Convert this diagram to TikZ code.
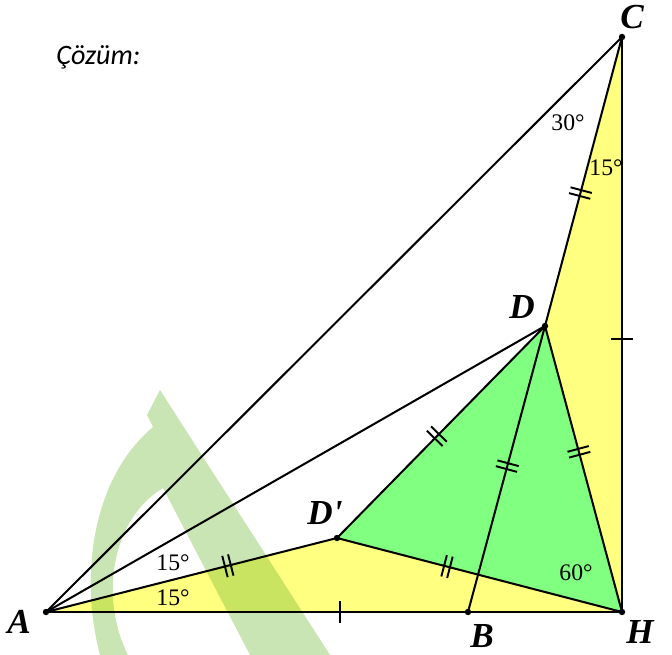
\documentclass[tikz,border=0pt]{standalone}
\usepackage{fontspec}
\setmainfont{Liberation Serif}
\newfontfamily\solfont{Carlito}
\usetikzlibrary{decorations.markings}
\definecolor{fillyellow}{HTML}{FFFF80}
\definecolor{fillgreen}{HTML}{80FF80}
\definecolor{markgreen}{RGB}{100,180,40}

\begin{document}
\begin{tikzpicture}[x=0.02cm,y=-0.02cm,
    every node/.style={inner sep=0pt},
    ptlabel/.style={font=\fontsize{20}{20}\selectfont\bfseries\itshape},
    anglabel/.style={font=\fontsize{13.5}{13.5}\selectfont},
    seg/.style={line width=1.15pt},
    thickseg/.style={line width=1.5pt},
    onetick/.style={postaction={decorate,decoration={markings,
      mark=at position #1 with {\draw[line width=1.1pt] (0,-11) -- (0,11);}}}},
    twotick/.style={postaction={decorate,decoration={markings,
      mark=at position #1 with {\draw[line width=1.1pt] (-3,-11) -- (-3,11) (3,-11) -- (3,11);}}}}
  ]
  \useasboundingbox (0,0) rectangle (672,655);

  % Points
  \coordinate (A) at (46,612);
  \coordinate (B) at (468,612);
  \coordinate (H) at (622,612);
  \coordinate (C) at (622,37);
  \coordinate (D) at (545,326);
  \coordinate (Dp) at (337,538);

  % Coloured triangles
  \fill[fillyellow] (A) -- (Dp) -- (H) -- cycle;
  \fill[fillyellow] (C) -- (D) -- (H) -- cycle;
  \fill[fillgreen] (Dp) -- (D) -- (H) -- cycle;

  % Watermark
  \fill[markgreen,opacity=0.35] (160,390) -- (330,655) -- (250,655) -- (163,488)
    .. controls (110,520) and (100,600) .. (128,655) -- (100,655)
    .. controls (80,580) and (90,480) .. (153,427) -- (147,415) -- cycle;

  % Sides
  \draw[seg] (A) -- (C);
  \draw[seg] (A) -- (D);
  \draw[seg,twotick=0.625] (A) -- (Dp);
  \draw[thickseg,onetick=0.51] (A) -- (H);
  \draw[thickseg,onetick=0.525] (C) -- (H);
  \draw[seg,twotick=0.54] (C) -- (D);
  \draw[seg,twotick=0.49] (D) -- (B);
  \draw[seg,twotick=0.48] (Dp) -- (D);
  \draw[seg,twotick=0.44] (D) -- (H);
  \draw[seg,twotick=0.386] (Dp) -- (H);

  % Dots
  \foreach \p in {A,B,H,C,D,Dp}
    \fill (\p) circle (3.2);

  % Point labels
  \node[ptlabel] (lA) at (19,622) {A};
  \node[ptlabel] (lB) at (482,636) {B};
  \node[ptlabel] (lH) at (640,632) {H};
  \node[ptlabel] (lC) at (632,17) {C};
  \node[ptlabel] (lD) at (522,307) {D};
  \node[ptlabel] (lDp) at (325,513) {D\textquotesingle};

  % Angles
  \node[anglabel] (a30) at (568,123) {30°};
  \node[anglabel] (a15c) at (606,168) {15°};
  \node[anglabel] (a60) at (576,573) {60°};
  \node[anglabel] (a15u) at (173,563) {15°};
  \node[anglabel] (a15d) at (173,598) {15°};

  \node[anchor=west,font=\solfont\itshape\fontsize{16}{16}\selectfont] (title) at (56,57) {Çözüm:};
\end{tikzpicture}
\end{document}
